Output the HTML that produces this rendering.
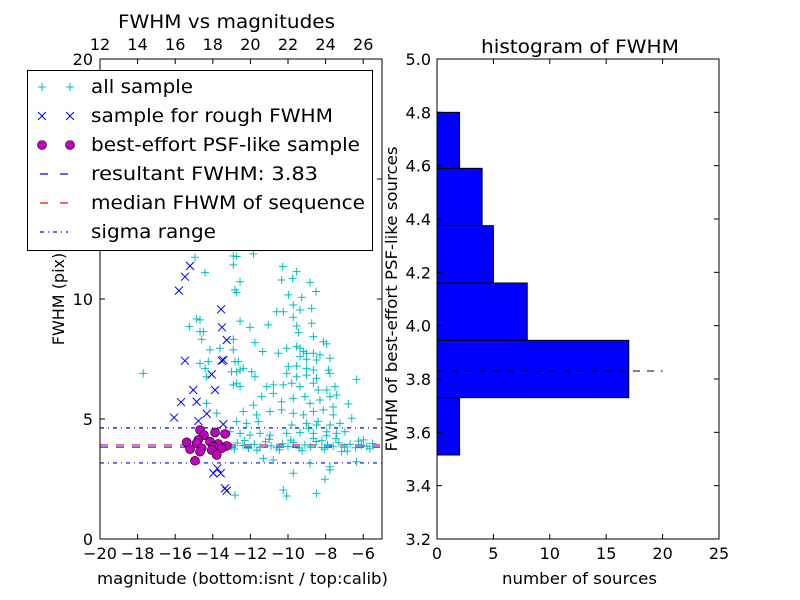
<!DOCTYPE html>
<html><head><meta charset="utf-8"><style>
html,body{margin:0;padding:0;background:#fff;}
svg{display:block;font-family:"DejaVu Sans","Liberation Sans",sans-serif;}
</style></head><body>
<svg id="chart" width="800" height="600" viewBox="0 0 800 600" xmlns="http://www.w3.org/2000/svg">
<rect x="0" y="0" width="800" height="600" fill="#fff"/>
<g id="left"></g>
<g id="right"></g>
</svg>
<script>
// ---- scatter data ----
const allX = [-14.95,-12.91,-12.73,-11.84,-14.41,-12.91,-12.55,-12.82,-12.73,-10.28,-9.54,-10.34,-9.75,-8.83,-8.51,-9.98,-9.27,-9.72,-9.36,-8.74,-10.60,-10.25,-9.72,-9.54,-8.74,-11.05,-12.02,-12.55,-14.86,-14.68,-15.25,-14.68,-14.50,-14.59,-9.45,-8.65,-8.12,-7.94,-12.91,-11.76,-13.62,-12.91,-14.15,-9.54,-9.36,-9.18,-9.01,-8.65,-8.30,-11.35,-10.51,-10.07,-9.36,-9.01,-8.48,-7.77,-14.68,-14.24,-12.82,-12.64,-9.98,-9.54,-9.01,-8.65,-7.85,-17.70,-14.41,-14.33,-13.00,-12.73,-12.55,-12.38,-11.93,-11.76,-10.07,-9.54,-9.01,-8.48,-7.77,-6.35,-12.91,-12.73,-12.55,-11.13,-10.78,-10.25,-9.80,-9.36,-8.65,-8.39,-7.94,-7.50,-11.40,-10.78,-10.34,-9.72,-9.10,-8.83,-8.30,-7.77,-7.41,-14.33,-13.79,-11.84,-12.38,-11.67,-10.96,-10.34,-9.72,-9.18,-8.65,-8.12,-7.59,-6.79,-6.61,-12.73,-12.20,-11.58,-9.80,-9.01,-8.48,-7.77,-7.23,-13.09,-12.55,-12.02,-11.49,-10.96,-10.07,-9.36,-8.65,-7.94,-7.41,-6.97,-13.0,-12.7,-12.4,-12.1,-11.8,-11.5,-11.2,-10.9,-10.6,-10.3,-10.0,-9.7,-9.4,-9.1,-8.8,-8.5,-8.2,-7.9,-7.6,-7.3,-7.0,-6.7,-6.4,-6.1,-5.8,-5.5,-12.85,-12.3,-11.65,-11.0,-10.45,-9.85,-9.25,-8.65,-8.05,-7.45,-6.85,-6.25,-5.65,-11.31,-10.78,-9.72,-8.83,-7.77,-6.35,-8.03,-7.77,-7.15,-10.25,-10.07,-8.48,-12.82,-5.99,-8.9,-8.4,-7.95,-7.6,-8.2];
const allY = [11.74,11.79,11.77,11.88,11.10,11.42,10.72,10.38,10.27,11.35,11.14,10.79,10.86,10.68,10.31,10.17,10.07,9.75,9.54,9.61,9.47,9.47,9.24,8.88,8.99,8.92,8.82,9.08,9.17,9.13,8.85,8.64,8.64,8.32,8.60,8.43,8.22,8.13,8.32,8.18,7.95,7.88,7.88,8.02,7.95,7.81,7.74,7.74,7.67,7.81,7.74,7.95,7.60,7.49,7.46,7.53,7.32,7.39,7.39,7.39,7.18,7.21,7.11,7.04,7.04,6.90,7.11,6.76,6.97,6.97,7.04,7.11,6.97,6.76,6.90,6.76,6.83,6.70,6.90,6.65,6.42,6.49,6.35,6.35,6.42,6.42,6.49,6.35,6.49,6.21,6.21,6.35,5.93,6.07,5.72,5.86,5.93,5.65,5.79,5.93,6.00,5.65,5.24,5.58,5.31,5.17,5.31,5.38,5.24,5.17,5.31,5.38,5.17,5.63,5.03,4.89,4.82,4.89,4.75,4.82,4.75,4.75,4.82,4.47,4.40,4.33,4.40,4.33,4.40,4.43,4.40,4.47,4.40,4.47,3.85,4.00,3.90,3.78,3.95,3.82,4.05,3.88,3.80,3.97,3.86,4.02,3.79,3.92,3.84,4.06,3.81,3.93,3.87,4.01,3.83,3.95,3.80,3.90,3.86,3.98,3.75,4.10,3.70,4.15,3.72,4.12,3.68,4.20,3.74,4.18,3.66,4.08,3.76,3.36,3.29,2.74,3.15,3.01,3.22,2.49,2.88,3.64,2.04,1.79,1.90,1.83,4.13,4.6,4.9,4.3,5.5,4.1];
const roughX = [-15.21,-15.48,-15.80,-13.56,-13.51,-13.26,-15.48,-13.53,-13.44,-14.06,-15.04,-13.88,-15.69,-14.86,-16.06,-14.32,-14.77,-13.44,-13.76,-13.97,-13.58,-13.35,-13.26];
const roughY = [11.38,10.93,10.35,9.57,8.82,8.29,7.43,7.43,7.46,6.86,6.21,6.21,5.70,5.72,5.06,5.22,4.92,4.78,2.94,2.74,2.74,2.11,2.01];
const bestX = [-14.68,-13.88,-13.35,-14.47,-14.77,-15.39,-14.86,-14.15,-13.71,-13.26,-13.97,-14.59,-15.21,-13.53,-14.06,-14.68,-13.79,-14.95];
const bestY = [4.54,4.44,4.38,4.33,4.13,4.03,3.99,4.06,3.96,3.88,3.85,3.78,3.74,3.78,3.71,3.64,3.50,3.26];
const resultFWHM = 3.83;
const medianFWHM = 3.92;
const sigmaLow = 3.17;
const sigmaHigh = 4.63;
const bottomTicks = [-20,-18,-16,-14,-12,-10,-8,-6];
const topTicks = [12,14,16,18,20,22,24,26];
const leftYTicks = [0,5,10,15,20];
// ---- histogram data ----
const binEdges = [3.515,3.73,3.945,4.16,4.375,4.59,4.80];
const binCounts = [2,17,8,5,4,2];
const histXTicks = [0,5,10,15,20,25];
const histYTicks = [3.2,3.4,3.6,3.8,4.0,4.2,4.4,4.6,4.8,5.0];

const NS="http://www.w3.org/2000/svg";
function mk(parent,tag,attrs,text){const e=document.createElementNS(NS,tag);for(const k in attrs)e.setAttribute(k,attrs[k]);if(text!==undefined)e.textContent=text;parent.appendChild(e);return e;}
function fit(e,len){e.setAttribute('textLength',len);e.setAttribute('lengthAdjust','spacingAndGlyphs');}

// ---- left panel ----
const L=document.getElementById('left');
const lx0=100,lx1=382,ly0=59,ly1=539;
const sx=v=>lx0+(v+20)/15*(lx1-lx0);
const sxTop=v=>lx0+(v-12)/15*(lx1-lx0);
const sy=v=>ly1-v/20*(ly1-ly0);
let e;
e=mk(L,'rect',{x:lx0,y:ly0,width:lx1-lx0,height:ly1-ly0,fill:'#fff',stroke:'none'});


[sigmaHigh,sigmaLow].forEach(v=>{
 e=mk(L,'line',{x1:lx0,x2:lx1,y1:sy(v),y2:sy(v),stroke:'#0000ff','stroke-width':1.2,'stroke-dasharray':'4,4,1,4'});
 
 
});
e=mk(L,'line',{x1:lx0,x2:lx1,y1:sy(medianFWHM),y2:sy(medianFWHM),stroke:'#ff0000','stroke-width':1.2,'stroke-dasharray':'8,8'});


e=mk(L,'line',{x1:lx0,x2:lx1,y1:sy(resultFWHM),y2:sy(resultFWHM),stroke:'#0000ff','stroke-width':1.2,'stroke-dasharray':'8,8'});


const gAll=mk(L,'g',{stroke:'#00bfbf','stroke-width':1});


allX.forEach((xv,i)=>{const x=sx(xv),y=sy(allY[i]);
 e=mk(gAll,'path',{d:`M${x-4},${y}H${x+4}M${x},${y-4}V${y+4}`,fill:'none'});
 
 
});
const gR=mk(L,'g',{stroke:'#0000ff','stroke-width':1});


roughX.forEach((xv,i)=>{const x=sx(xv),y=sy(roughY[i]);
 e=mk(gR,'path',{d:`M${x-4},${y-4}L${x+4},${y+4}M${x-4},${y+4}L${x+4},${y-4}`,fill:'none'});
 
 
});
const gB=mk(L,'g',{});


bestX.forEach((xv,i)=>{
 e=mk(gB,'circle',{cx:sx(xv),cy:sy(bestY[i]),r:4.5,fill:'#bf00bf',stroke:'#000','stroke-width':0.6});
 
 
});
e=mk(L,'rect',{x:lx0,y:ly0,width:lx1-lx0,height:ly1-ly0,fill:'none',stroke:'#000','stroke-width':1});


bottomTicks.forEach(t=>{const x=sx(t);
 mk(L,'line',{x1:x,x2:x,y1:ly1,y2:ly1-5,stroke:'#000'});
 e=mk(L,'text',{x:x,y:ly1+20,'text-anchor':'middle','font-size':16},(t<0?'\u2212'+(-t):t));
 
 
});
topTicks.forEach(t=>{const x=sxTop(t);
 mk(L,'line',{x1:x,x2:x,y1:ly0,y2:ly0+5,stroke:'#000'});
 e=mk(L,'text',{x:x,y:ly0-9,'text-anchor':'middle','font-size':16},t);
 
 
});
leftYTicks.forEach(t=>{const y=sy(t);
 mk(L,'line',{x1:lx0,x2:lx0+5,y1:y,y2:y,stroke:'#000'});
 mk(L,'line',{x1:lx1,x2:lx1-5,y1:y,y2:y,stroke:'#000'});
 e=mk(L,'text',{x:lx0-7,y:y+6,'text-anchor':'end','font-size':16},t);
 
 
});
e=mk(L,'text',{x:118,y:28,'font-size':19},'FWHM vs magnitudes');
fit(e,217);


e=mk(L,'text',{x:97,y:584,'font-size':16},'magnitude (bottom:isnt / top:calib)');
fit(e,291);


e=mk(L,'text',{x:0,y:0,'text-anchor':'middle','font-size':16,transform:'translate(64,299) rotate(-90)'},'FWHM (pix)');


// legend
const lg=mk(L,'g',{});


mk(lg,'rect',{x:27.5,y:70.5,width:345,height:180,fill:'#fff',stroke:'#000','stroke-width':1});
const labels=['all sample','sample for rough FWHM','best-effort PSF-like sample','resultant FWHM: 3.83','median FHWM of sequence','sigma range'];
const labelLens=[102,242,269,227,274,125];
labels.forEach((t,i)=>{const y=87+i*29;
 [42,70].forEach(x=>{
  if(i===0) mk(lg,'path',{d:`M${x-4},${y}H${x+4}M${x},${y-4}V${y+4}`,stroke:'#00bfbf'});
  if(i===1) mk(lg,'path',{d:`M${x-4},${y-4}L${x+4},${y+4}M${x-4},${y+4}L${x+4},${y-4}`,stroke:'#0000ff'});
  if(i===2) mk(lg,'circle',{cx:x,cy:y,r:4.5,fill:'#bf00bf',stroke:'#000','stroke-width':0.6});
 });
 if(i===3) mk(lg,'line',{x1:40,x2:68,y1:y,y2:y,stroke:'#0000ff','stroke-width':1.2,'stroke-dasharray':'8,12'});
 if(i===4) mk(lg,'line',{x1:40,x2:68,y1:y,y2:y,stroke:'#ff0000','stroke-width':1.2,'stroke-dasharray':'8,12'});
 if(i===5) mk(lg,'line',{x1:40,x2:68,y1:y,y2:y,stroke:'#0000ff','stroke-width':1.2,'stroke-dasharray':'4,4,1,4'});
 e=mk(lg,'text',{x:91,y:y+6,'font-size':19},t);
 fit(e,labelLens[i]);
 
 
});

// ---- right panel ----
const R=document.getElementById('right');
const rx0=437,rx1=719,ry0=59,ry1=539;
const hx=v=>rx0+v/25*(rx1-rx0);
const hy=v=>ry1-(v-3.2)/1.8*(ry1-ry0);
binCounts.forEach((c,i)=>{
 const y1=hy(binEdges[i+1]),y2=hy(binEdges[i]);
 e=mk(R,'rect',{x:hx(0),y:y1,width:hx(c)-hx(0),height:y2-y1,fill:'#0000ff',stroke:'#000','stroke-width':1});
 
 
});
e=mk(R,'line',{x1:hx(0),x2:hx(20),y1:hy(resultFWHM),y2:hy(resultFWHM),stroke:'#000','stroke-dasharray':'7,7'});


e=mk(R,'rect',{x:rx0,y:ry0,width:rx1-rx0,height:ry1-ry0,fill:'none',stroke:'#000'});


histXTicks.forEach(t=>{const x=hx(t);
 mk(R,'line',{x1:x,x2:x,y1:ry1,y2:ry1-5,stroke:'#000'});
 mk(R,'line',{x1:x,x2:x,y1:ry0,y2:ry0+5,stroke:'#000'});
 e=mk(R,'text',{x:x,y:ry1+20,'text-anchor':'middle','font-size':16},t);
 
 
});
histYTicks.forEach(t=>{const y=hy(t);
 mk(R,'line',{x1:rx0,x2:rx0+5,y1:y,y2:y,stroke:'#000'});
 mk(R,'line',{x1:rx1,x2:rx1-5,y1:y,y2:y,stroke:'#000'});
 e=mk(R,'text',{x:rx0-6,y:y+6,'text-anchor':'end','font-size':16},t.toFixed(1));
 
 
});
e=mk(R,'text',{x:481,y:53,'font-size':19},'histogram of FWHM');
fit(e,198);


e=mk(R,'text',{x:502,y:584,'font-size':16},'number of sources');
fit(e,155);


e=mk(R,'text',{x:0,y:0,'text-anchor':'middle','font-size':16,transform:'translate(397,299) rotate(-90)'},'FWHM of best-effort PSF-like sources');
fit(e,305);


</script>
</body></html>
